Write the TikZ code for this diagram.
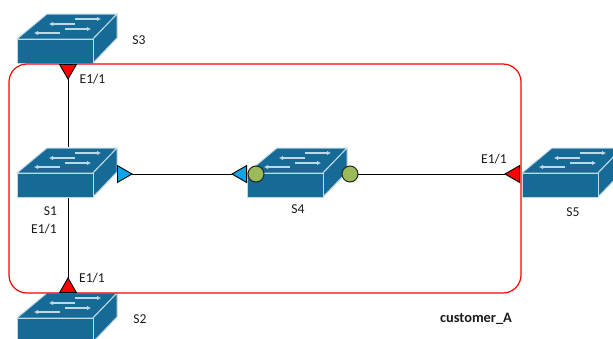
\documentclass[tikz,border=0pt]{standalone}
\usepackage{fontspec}
\setmainfont{Carlito}
\usetikzlibrary{shapes.geometric,arrows.meta}
\definecolor{swfill}{HTML}{156A96}
\definecolor{swedge}{HTML}{BFD8E6}
\definecolor{portblue}{HTML}{0FA5E6}
\definecolor{portgreen}{HTML}{9BBB59}
\definecolor{txt}{HTML}{1A1A1A}
\tikzset{
  swbody/.style={fill=swfill,draw=swedge,line width=1pt,line join=round},
  swarrow/.style={draw=swedge,line width=1.5pt,-{Latex[length=4pt,width=4.5pt]}},
  portbase/.style={regular polygon,regular polygon sides=3,minimum size=19.4pt,inner sep=0pt,outer sep=0pt,draw=black,line width=0.9pt},
  portred/.style={portbase,fill=red},
  portcyan/.style={portbase,fill=portblue},
  portdot/.style={circle,minimum size=16pt,inner sep=0pt,outer sep=0pt,draw=black!85,line width=1pt,fill=portgreen},
  link/.style={draw=black,line width=0.9pt},
  zone/.style={draw=red,line width=1.2pt,rounded corners=18pt},
  lbl/.style={text=txt,font=\fontsize{13.6}{15}\selectfont,inner sep=0pt},
  switch/.pic={
    \path[swbody] (0,0) -- (30,-25) -- (100,-25) -- (76,0) -- cycle;
    \path[swbody] (76,0) -- (100,-25) -- (100,-1) -- (76,24) -- cycle;
    \path[swbody] (0,0) rectangle (76,24);
    \draw[swarrow] (58,-15) -- (32,-15);
    \draw[swarrow] (58,-20) -- (84,-20);
    \draw[swarrow] (43,-6) -- (17,-6);
    \draw[swarrow] (48,-10) -- (74,-10);
    \node[minimum width=102pt,minimum height=49pt,inner sep=0pt,outer sep=1pt] (-box) at (51,-0.5) {};
  }
}
\begin{document}
\begin{tikzpicture}[x=1pt,y=-1pt]
\clip (0,0) rectangle (613,338);
\pic (s3) at (17,39) {switch};
\pic (s1) at (17,173) {switch};
\pic (s2) at (17,318) {switch};
\pic (s4) at (247,173) {switch};
\pic (s5) at (522,173) {switch};
\node[minimum width=512pt,minimum height=229pt,inner sep=0pt,outer sep=0pt,rectangle,zone] (zone) at (265,178.5) {};
% ports
\node[portred,shape border rotate=180,anchor=corner 1] (p3) at (68,79) {};
\node[portred,shape border rotate=0,anchor=corner 1] (p2) at (68,278) {};
\node[portcyan,shape border rotate=270,anchor=corner 1] (p1) at (132,174) {};
\node[portcyan,shape border rotate=90,anchor=corner 1] (p4) at (232,174) {};
\node[portdot] (d4a) at (256,174) {};
\node[portdot] (d4b) at (350,174) {};
\node[portred,shape border rotate=90,anchor=corner 1] (p5) at (505,174) {};
% links
\draw[link] (p3.corner 1) -- (s1-box.north);
\draw[link] (s1-box.south) -- (p2.corner 1);
\draw[link] (p1.corner 1) -- (p4.corner 1);
\draw[link] (d4b.east) -- (p5.corner 1);
% labels
\node[lbl] (ls3) at (139,40) {S3};
\node[lbl] (le3) at (92.5,79) {E1/1};
\node[lbl] (ls1) at (50.5,211) {S1};
\node[lbl] (le1) at (44,229) {E1/1};
\node[lbl] (le2) at (92,278) {E1/1};
\node[lbl] (ls2) at (140,319) {S2};
\node[lbl] (ls4) at (298,209) {S4};
\node[lbl] (le5) at (494,159) {E1/1};
\node[lbl] (ls5) at (573,212) {S5};
\node[lbl,font=\fontsize{14.4}{16}\selectfont\bfseries] (lz) at (476,319) {customer\_A};
\end{tikzpicture}
\end{document}
